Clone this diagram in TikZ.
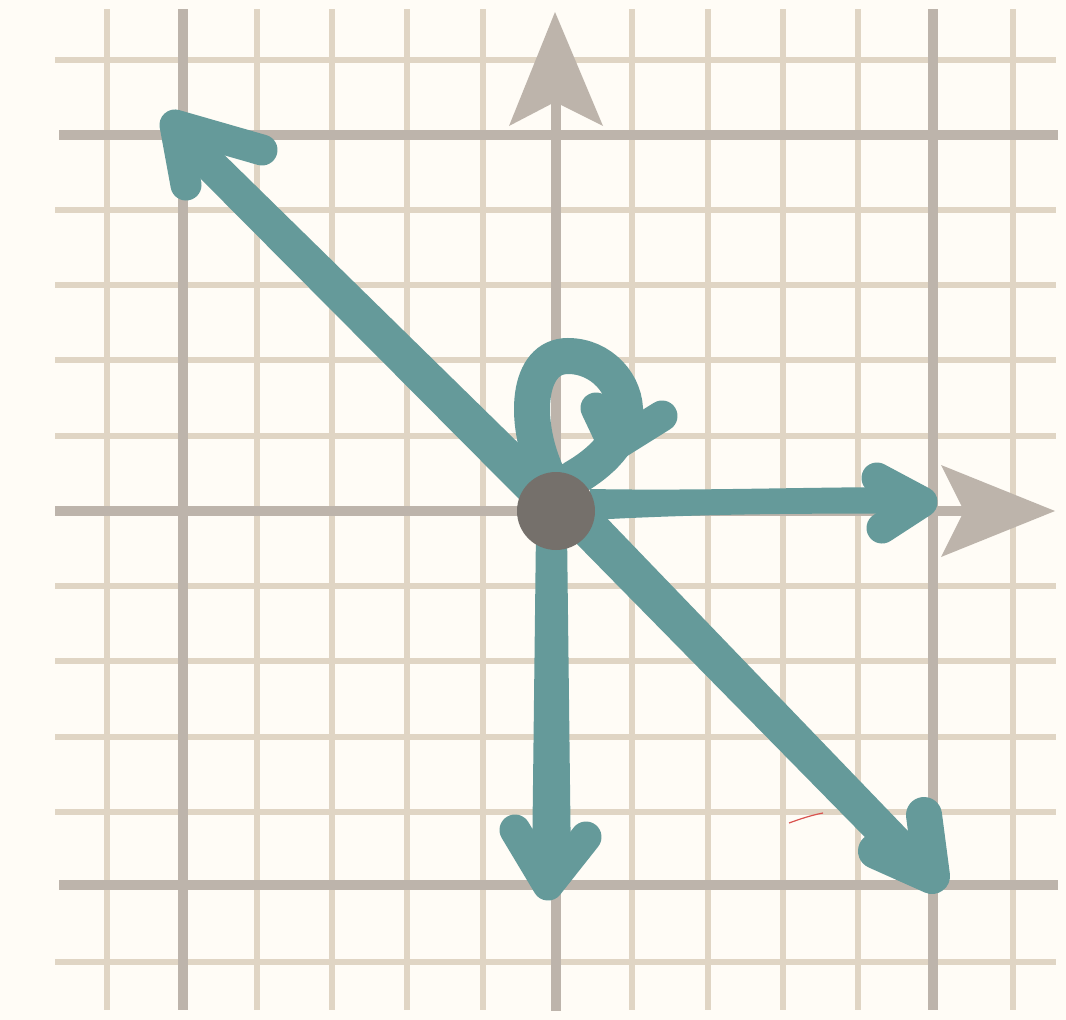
\documentclass[tikz,border=0pt]{standalone}
\usetikzlibrary{calc}
\definecolor{bg}{HTML}{FFFCF6}
\definecolor{minorc}{HTML}{E0D5C4}
\definecolor{majorc}{HTML}{BDB4AB}
\definecolor{tealc}{HTML}{659A9A}
\definecolor{nodegray}{HTML}{75706B}
\definecolor{redc}{HTML}{D9534F}
\begin{document}
\begin{tikzpicture}[x=1pt,y=-1pt,
  minorline/.style={draw=minorc,line width=6pt},
  majorline/.style={draw=majorc,line width=10.5pt},
  axishead/.style={fill=majorc},
  loopline/.style={draw=tealc,line width=36pt,line cap=round},
  headstroke/.style={draw=tealc,line width=31pt,line cap=round,line join=round},
  dot/.style={circle,fill=nodegray,minimum size=78pt,inner sep=0pt}]
\fill[bg] (0,0) rectangle (1066,1020);
\useasboundingbox (0,0) rectangle (1066,1020);
% grid
\foreach \x in {107,257,332,407,483,632,708,783,858,1013} \draw[minorline] (\x,9) -- (\x,1010);
\foreach \y in {60,210,285,360,436,586,661,737,812,962} \draw[minorline] (55,\y) -- (1056,\y);
\foreach \x in {183,933} \draw[majorline] (\x,9) -- (\x,1010);
\foreach \y in {135,885} \draw[majorline] (59,\y) -- (1058,\y);
% axes
\draw[majorline] (556,60) -- (556,1011);
\draw[majorline] (55,511) -- (1000,511);
\fill[axishead] (555,12) -- (603,126) -- (555,102) -- (509,126) -- cycle;
\fill[axishead] (1055,511) -- (941,557) -- (964,511) -- (941,465) -- cycle;
% stray red stroke
\draw[redc,line width=1.2pt] (789,823) .. controls (800,819) and (812,815) .. (823,813);
% named points
\coordinate (o) at (556,511);
\coordinate (ulT) at (175,125);
\coordinate (ulA) at (262,150);
\coordinate (ulB) at (186,185);
\coordinate (rT) at (922,502);
\coordinate (rA) at (877,478);
\coordinate (rB) at (882,528);
\coordinate (dT) at (548,885);
\coordinate (dA) at (515,830);
\coordinate (dB) at (586,837);
\coordinate (drT) at (932,876);
\coordinate (drA) at (924,815);
\coordinate (drB) at (876,851);
\coordinate (lpS) at (546,472);
\coordinate (lpE) at (574,478);
\coordinate (lpT) at (614,446);
\coordinate (lpA) at (596,408);
\coordinate (lpB) at (662,416);
% up-left arrow
\fill[tealc] (552,476) -- (205,136) -- (181,159) -- (524,504) -- cycle;
\draw[headstroke] (ulA) -- (ulT) -- (ulB);
\fill[tealc] (ulT) -- ($(ulT)!0.6!(ulA)$) -- ($(ulT)!0.6!(ulB)$) -- cycle;
% right arrow
\fill[tealc] (590,489) .. controls (700,491) and (800,487) .. (920,487) -- (920,514) .. controls (800,513) and (700,514) .. (590,520) -- cycle;
\draw[headstroke] (rA) -- (rT) -- (rB);
\fill[tealc] (rT) -- ($(rT)!0.55!(rA)$) -- ($(rT)!0.55!(rB)$) -- cycle;
% down arrow
\fill[tealc] (536,530) -- (567,530) -- (571,870) -- (532,870) -- cycle;
\draw[headstroke] (dA) -- (dT) -- (dB);
\fill[tealc] (dT) -- ($(dT)!0.65!(dA)$) -- ($(dT)!0.65!(dB)$) -- cycle;
% down-right arrow
\fill[tealc] (599,510) -- (935,859) -- (911,884) -- (571,538) -- cycle;
\draw[headstroke,line width=36pt] (drA) -- (drT) -- (drB);
\fill[tealc] (drT) -- ($(drT)!0.7!(drA)$) -- ($(drT)!0.7!(drB)$) -- cycle;
% self loop
\draw[loopline] (lpS) .. controls (523,420) and (527,356) .. (568,356) .. controls (601,356) and (627,384) .. (625,415) .. controls (623,440) and (602,462) .. (lpE);
\draw[headstroke] (lpA) -- (lpT) -- (lpB);
\fill[tealc] (lpT) -- ($(lpT)!0.65!(lpA)$) -- ($(lpT)!0.65!(lpB)$) -- cycle;
% node
\node[dot] (c) at (o) {};
\end{tikzpicture}
\end{document}
